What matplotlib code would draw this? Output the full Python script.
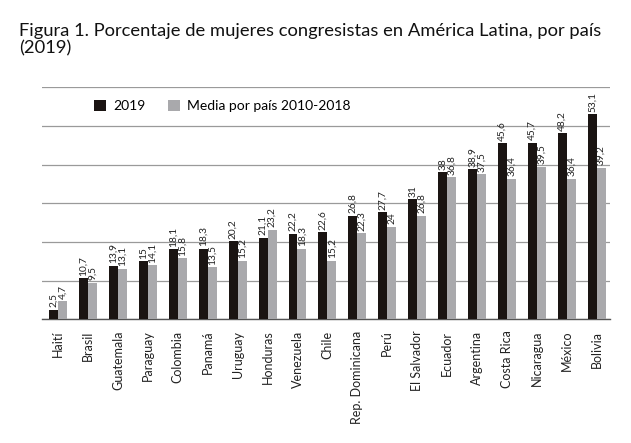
import matplotlib
matplotlib.use("Agg")
import matplotlib.pyplot as plt
import numpy as np

countries = ["Haití", "Brasil", "Guatemala", "Paraguay", "Colombia", "Panamá", "Uruguay",
             "Honduras", "Venezuela", "Chile", "Rep. Dominicana", "Perú", "El Salvador",
             "Ecuador", "Argentina", "Costa Rica", "Nicaragua", "México", "Bolivia"]
v2019 = [2.5, 10.7, 13.9, 15, 18.1, 18.3, 20.2, 21.1, 22.2, 22.6, 26.8, 27.7, 31,
         38, 38.9, 45.6, 45.7, 48.2, 53.1]
vmedia = [4.7, 9.5, 13.1, 14.1, 15.8, 13.5, 15.2, 23.2, 18.3, 15.2, 22.3, 24, 26.8,
          36.8, 37.5, 36.4, 39.5, 36.4, 39.2]
labels_2019 = ["2,5", "10,7", "13,9", "15", "18,1", "18,3", "20,2", "21,1", "22,2", "22,6",
               "26,8", "27,7", "31", "38", "38,9", "45,6", "45,7", "48,2", "53,1"]
labels_media = ["4,7", "9,5", "13,1", "14,1", "15,8", "13,5", "15,2", "23,2", "18,3", "15,2",
                "22,3", "24", "26,8", "36,8", "37,5", "36,4", "39,5", "36,4", "39,2"]

plt.rcParams['font.family'] = ['Lato', 'DejaVu Sans']

fig = plt.figure(figsize=(6.31, 4.43), dpi=100)
ax = fig.add_axes([0.066, 0.279, 0.901, 0.524])

x = np.arange(len(countries))
w = 0.3
black = "#1a1412"
gray = "#a9a9ac"
ax.bar(x - w/2, v2019, w, color=black, label="2019", zorder=3)
ax.bar(x + w/2, vmedia, w, color=gray, label="Media por país 2010-2018", zorder=3)

for xi, v, lab in zip(x - w/2, v2019, labels_2019):
    ax.text(xi, v + 0.6, lab, rotation=90, ha="center", va="bottom", fontsize=7.3, color="#222222")
for xi, v, lab in zip(x + w/2, vmedia, labels_media):
    ax.text(xi, v + 0.6, lab, rotation=90, ha="center", va="bottom", fontsize=7.3, color="#222222")

ax.set_ylim(0, 60)
ax.set_xlim(-0.55, len(countries) - 0.55)
ax.set_yticks(np.arange(0, 61, 10))
ax.set_yticklabels([])
ax.tick_params(axis="y", length=0)
ax.yaxis.grid(True, color="#9a9a9a", linewidth=0.9, zorder=0)
ax.set_axisbelow(True)
for s in ["left", "right", "top"]:
    ax.spines[s].set_visible(False)
ax.spines["bottom"].set_color("#555555")
ax.spines["bottom"].set_linewidth(1.0)

ax.set_xticks(x)
ax.set_xticklabels(countries, rotation=90, fontsize=9, color="#222222")
ax.tick_params(axis="x", length=0, pad=8)

ax.legend(loc="upper left", bbox_to_anchor=(0.07, 1.0), ncol=2, frameon=False,
          fontsize=10, handlelength=0.9, handleheight=0.9, columnspacing=1.6,
          handletextpad=0.5)

fig.text(0.03, 0.948, "Figura 1. Porcentaje de mujeres congresistas en América Latina, por país\n(2019)",
         ha="left", va="top", fontsize=13.2, color="#111111", linespacing=1.08)

fig.savefig("out.png", dpi=100)
